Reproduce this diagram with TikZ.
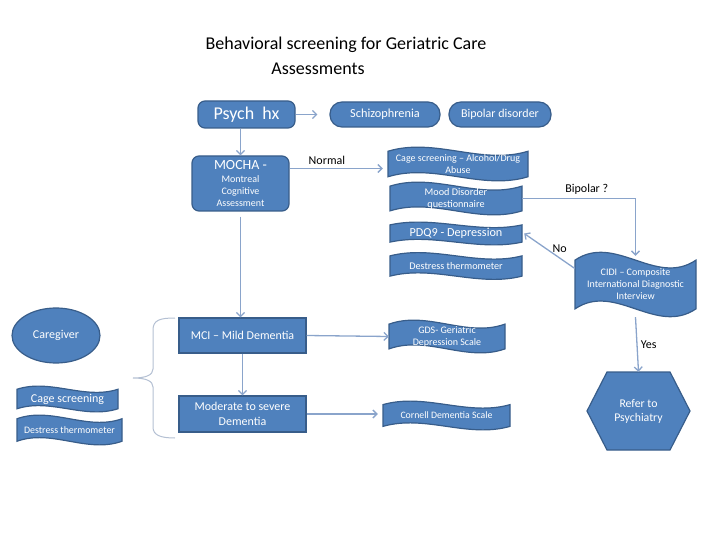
\documentclass[tikz,border=0pt]{standalone}
\usepackage{fontspec}
\setmainfont{Carlito}
\usetikzlibrary{arrows.meta,shapes.geometric}
\usepackage{xcolor}
\definecolor{shapeblue}{HTML}{4F81BD}
\definecolor{shapeedge}{HTML}{385D8A}
\definecolor{linkblue}{HTML}{8AA4CB}
\definecolor{bracegrey}{HTML}{B4C0D3}
\tikzset{
  box/.style     ={rectangle, draw=shapeedge, fill=shapeblue, line width=1.2pt,
                   align=center, inner sep=1pt, text=white},
  rbox/.style    ={box, rounded corners=7pt},
  pill/.style    ={box, rounded corners=12pt},
  wavefill/.style={draw=shapeedge, fill=shapeblue, line width=1.2pt},
  wavetext/.style={rectangle, align=center, inner sep=1pt, text=white},
  link/.style    ={draw=linkblue, line width=1.3pt,
                   -{Straight Barb[length=4pt,width=8pt]}},
  lbl/.style     ={font=\fontsize{12}{14}\selectfont, text=black},
  title/.style   ={font=\fontsize{18}{21}\selectfont, text=black},
}
\newcommand{\fs}[2]{\fontsize{#1}{#2}\selectfont}
% name, x, y, width, height, font, text
\newcommand{\wavebox}[7]{%
  \begin{scope}[shift={(#2,#3)}]
    \filldraw[wavefill]
      ({-#4/2},{-0.375*#5}) .. controls ({-#4/6},{-0.792*#5}) and ({#4/6},{0.042*#5}) .. ({#4/2},{-0.375*#5})
      -- ({#4/2},{0.375*#5}) .. controls ({#4/6},{0.792*#5}) and ({-#4/6},{-0.042*#5}) .. ({-#4/2},{0.375*#5})
      -- cycle;
  \end{scope}
  \node[wavetext, font=#6, minimum width=#4, minimum height=#5] (#1) at (#2,#3) {#7};
}

\begin{document}
\begin{tikzpicture}[x=1pt, y=-1pt]
\useasboundingbox (0,0) rectangle (720,540);

% ---------------- title ----------------
\node[title] (title1) at (346,45) {Behavioral screening for Geriatric Care};
\node[title] (title2) at (318,69) {Assessments};

% ---------------- history row ----------------
\node[rbox, font=\fs{18}{21}, minimum width=97, minimum height=27] (psych) at (246.5,114.5) {Psych\ \ hx};
\node[pill, font=\fs{12.3}{14}, minimum width=110, minimum height=25] (schizo) at (385,114.5) {Schizophrenia};
\node[pill, font=\fs{12}{14}, minimum width=102, minimum height=25] (bipolar) at (500,114.5) {Bipolar disorder};

% ---------------- cognitive screening ----------------
\node[rbox, minimum width=97, minimum height=55] (mocha) at (240.5,183.5)
  {{\fs{14}{15}MOCHA -}\\[1pt]{\fs{10}{12}Montreal}\\[0pt]{\fs{10}{12}Cognitive}\\[0pt]{\fs{10}{12}Assessment}};
\node[box, font=\fs{12}{14}, minimum width=127, minimum height=35] (mci) at (242.5,335.5) {MCI -- Mild Dementia};
\node[box, font=\fs{12}{15.5}, minimum width=127, minimum height=36] (moderate) at (242.5,414) {Moderate to severe\\Dementia};

% ---------------- screening tools ----------------
\wavebox{cage}{458}{164}{140}{34}{\fs{10}{12}}{Cage screening -- Alcohol/Drug\\Abuse}
\wavebox{mood}{456}{198.5}{132}{33}{\fs{10.2}{12}}{Mood Disorder\\questionnaire}
\wavebox{pdq}{456}{233.5}{132}{23}{\fs{12.2}{14}}{PDQ9 - Depression}
\wavebox{destress}{456}{266}{132}{27}{\fs{10.2}{12}}{Destress thermometer}
\wavebox{cidi}{635.5}{284.5}{121}{65}{\fs{10}{12}}{CIDI -- Composite\\International Diagnostic\\Interview}
\wavebox{gds}{447}{336.5}{116}{33}{\fs{10}{12}}{GDS- Geriatric\\Depression Scale}
\wavebox{cornell}{446.5}{415.5}{127}{29}{\fs{9.8}{12}}{Cornell Dementia Scale}

% ---------------- referral ----------------
\filldraw[wavefill] (587,411) -- (607,372) -- (670,372) -- (690,411) -- (670,450) -- (607,450) -- cycle;
\node[wavetext, font=\fs{11.8}{14}, minimum width=103, minimum height=78] (refer) at (638.5,411) {Refer to\\Psychiatry};

% ---------------- caregiver ----------------
\node[box, ellipse, font=\fs{12}{14}, minimum width=88, minimum height=55] (caregiver) at (56,335.5) {Caregiver};
\wavebox{cagecg}{67.5}{399}{101}{26}{\fs{12}{14}}{Cage screening}
\wavebox{destresscg}{69.5}{430}{105}{30}{\fs{9.9}{12}}{Destress thermometer}
\draw[bracegrey, line width=1pt]
  (175,318) .. controls (160,318) and (153,320) .. (153,330) -- (153,369)
  .. controls (153,375) and (146,378) .. (133,378)
  .. controls (146,378) and (153,381) .. (153,387) -- (153,427)
  .. controls (153,435) and (160,438) .. (175,438);

% ---------------- connectors ----------------
\draw[link, shorten >=12pt] (psych.east) -- (psych.east -| schizo.west);
\draw[link] (mocha.north |- psych.south) -- (mocha.north);
\draw[link, shorten >=5pt] ([yshift=15pt]mocha.east) -- ([yshift=15pt]mocha.east -| cage.west)
  node[lbl, pos=0.38, above=0pt] {Normal};
\draw[link] (mood.east) -| ([yshift=-4pt]cidi.north)
  node[lbl, pos=0.285, above=0pt] {Bipolar ?};
\draw[link] ([yshift=16pt]cidi.west) -- ([xshift=2pt]pdq.east)
  node[lbl, pos=0.3, above=1pt] {No};
\draw[link] (cidi.south) -- (refer.north)
  node[lbl, midway, right=0pt] {Yes};
\draw[link, shorten <=5pt] (mocha.south) -- (mocha.south |- mci.north);
\draw[link] (mci.east) -- (gds.west);
\draw[link] (mci.south) -- (moderate.north);
\draw[link, shorten >=5pt] (moderate.east) -- (moderate.east -| cornell.west);

\end{tikzpicture}
\end{document}
